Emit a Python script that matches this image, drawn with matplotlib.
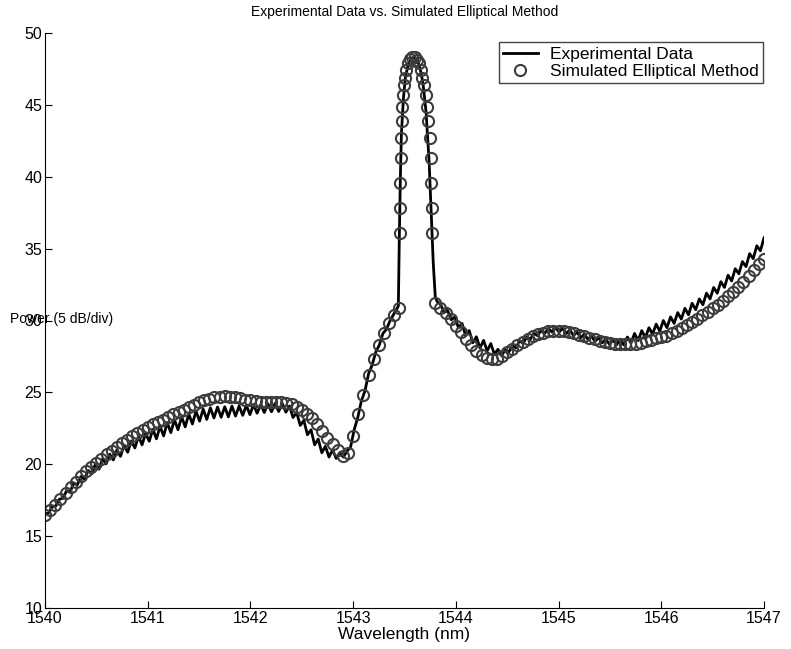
import numpy as np
import matplotlib
matplotlib.use("Agg")
import matplotlib.pyplot as plt

plt.rcParams['font.family'] = ['Liberation Sans', 'DejaVu Sans']

# Experimental data (sampled every 0.035 nm, ripple visible)
exp_left_start = 1540.0
exp_left_pw = [
    16.55, 16.6, 17.05, 17.1, 17.57, 17.63, 18.15, 18.1, 18.68, 18.57,
    19.15, 18.95, 19.57, 19.33, 20.0, 19.65, 20.37, 20.03, 20.7, 20.3,
    21.0, 20.55, 21.32, 20.83, 21.62, 21.13, 21.95, 21.35, 22.15, 21.6,
    22.43, 21.77, 22.63, 21.97, 22.9, 22.2, 23.1, 22.4, 23.3, 22.6,
    23.5, 22.8, 23.7, 23.0, 23.83, 23.12, 23.93, 23.22, 23.98, 23.27,
    24.0, 23.3, 24.05, 23.35, 24.05, 23.4, 24.1, 23.45, 24.15, 23.55,
    24.15, 23.6, 24.2, 23.65, 24.23, 23.67, 24.23, 23.62, 24.05, 23.25,
    23.6, 22.7, 23.05, 22.05, 22.4, 21.35, 21.75, 20.8, 21.25, 20.5,
    21.0, 20.4, 20.8, 20.5, 20.9, 21.2, 22.4, 23.25, 24.4, 25.1,
    26.3, 26.9, 27.8, 28.3, 29.1, 29.4, 30.0,
]
exp_peak_wl = [1543.40, 1543.44, 1543.45, 1543.46, 1543.47, 1543.49, 1543.51, 1543.54, 1543.58,
               1543.62, 1543.65, 1543.68, 1543.71, 1543.74, 1543.76, 1543.78, 1543.80, 1543.82]
exp_peak_pw = [30.5, 31.0, 36.0, 40.0, 43.0, 45.5, 47.0, 47.9, 48.3,
               48.2, 47.6, 46.5, 44.5, 41.0, 37.5, 34.0, 31.6, 31.3]
exp_right_start = 1543.85
exp_right_pw = [
    31.15, 30.55, 30.7, 30.05, 30.25, 29.5, 29.8, 28.95, 29.3, 28.45,
    28.87, 28.08, 28.62, 27.88, 28.4, 27.65, 28.0, 27.55, 27.95, 27.8,
    28.25, 28.1, 28.6, 28.4, 28.85, 28.7, 29.1, 28.95, 29.3, 29.1,
    29.45, 29.2, 29.5, 29.2, 29.45, 29.1, 29.35, 28.95, 29.2, 28.8,
    29.05, 28.7, 28.9, 28.55, 28.8, 28.45, 28.7, 28.35, 28.65, 28.3,
    28.7, 28.3, 28.85, 28.43, 29.1, 28.6, 29.3, 28.8, 29.5, 29.05,
    29.75, 29.25, 30.0, 29.5, 30.25, 29.8, 30.55, 30.1, 30.85, 30.4,
    31.2, 30.75, 31.5, 31.1, 31.9, 31.5, 32.3, 31.9, 32.7, 32.3,
    33.15, 32.75, 33.6, 33.25, 34.1, 33.75, 34.65, 34.3, 35.2, 34.85,
    35.75,
]
exp_step = 0.035

# Simulated elliptical method (sampled every 0.05 nm, plus the peak)
sim_left_start = 1540.0
sim_left_pw = [
    16.5, 16.85, 17.2, 17.6, 18.0, 18.4, 18.8, 19.15, 19.5, 19.8,
    20.1, 20.4, 20.7, 20.95, 21.2, 21.45, 21.7, 21.95, 22.2, 22.4,
    22.6, 22.8, 22.95, 23.1, 23.3, 23.5, 23.65, 23.8, 24.0, 24.15,
    24.3, 24.45, 24.55, 24.65, 24.7, 24.72, 24.7, 24.65, 24.6, 24.5,
    24.45, 24.4, 24.35, 24.35, 24.35, 24.35, 24.3, 24.25, 24.2, 24.0,
    23.8, 23.5, 23.2, 22.8, 22.3, 21.8, 21.4, 21.0, 20.6, 20.8,
    22.0, 23.5, 24.8, 26.2, 27.3, 28.3, 29.1, 29.8, 30.4, 30.9,
]
sim_peak_wl = [1543.455, 1543.457, 1543.46, 1543.463, 1543.467, 1543.472, 1543.478, 1543.486,
               1543.495, 1543.505, 1543.515, 1543.53,
               1543.55, 1543.575, 1543.60, 1543.625,
               1543.645, 1543.66, 1543.675, 1543.69, 1543.705, 1543.72, 1543.733, 1543.745,
               1543.755, 1543.762, 1543.767, 1543.772]
sim_peak_pw = [36.1, 37.8, 39.6, 41.3, 42.7, 43.9, 44.85, 45.7, 46.4, 46.9, 47.4, 47.9,
               48.2, 48.3, 48.3, 48.15,
               47.9, 47.4, 46.9, 46.4, 45.7, 44.85, 43.9, 42.7, 41.3, 39.6, 37.8, 36.1]
sim_right_start = 1543.80
sim_right_pw = [
    31.2, 30.9, 30.5, 30.1, 29.6, 29.2, 28.7, 28.3, 27.9, 27.6,
    27.4, 27.3, 27.35, 27.55, 27.8, 28.05, 28.3, 28.5, 28.7, 28.9,
    29.05, 29.15, 29.25, 29.3, 29.3, 29.25, 29.2, 29.1, 29.0, 28.9,
    28.8, 28.7, 28.6, 28.5, 28.45, 28.4, 28.35, 28.35, 28.35, 28.4,
    28.45, 28.55, 28.65, 28.75, 28.85, 28.95, 29.1, 29.3, 29.5, 29.7,
    29.9, 30.1, 30.35, 30.6, 30.85, 31.1, 31.35, 31.7, 32.0, 32.35,
    32.7, 33.1, 33.5, 33.9, 34.3,
]
sim_step = 0.05

x_ticks = [1540, 1541, 1542, 1543, 1544, 1545, 1546, 1547]
y_ticks = [10, 15, 20, 25, 30, 35, 40, 45, 50]

# build series
exp_wl = np.concatenate([
    exp_left_start + exp_step * np.arange(len(exp_left_pw)),
    exp_peak_wl,
    exp_right_start + exp_step * np.arange(len(exp_right_pw)),
])
exp_pw = np.concatenate([exp_left_pw, exp_peak_pw, exp_right_pw])

sim_wl = np.concatenate([
    sim_left_start + sim_step * np.arange(len(sim_left_pw)),
    sim_peak_wl,
    sim_right_start + sim_step * np.arange(len(sim_right_pw)),
])
sim_pw = np.concatenate([sim_left_pw, sim_peak_pw, sim_right_pw])

# Plot
fig = plt.figure(figsize=(7.91, 6.49), dpi=100)
ax = fig.add_axes([45 / 791, 1 - 608 / 649, 719 / 791, 575 / 649])

ax.plot(exp_wl, exp_pw, color="black", linewidth=2.0, label="Experimental Data")
ax.plot(sim_wl, sim_pw, linestyle="none", marker="o", markersize=8,
        markerfacecolor="none", markeredgecolor="#3c3c3c", markeredgewidth=1.5,
        label="Simulated Elliptical Method")

ax.set_xlim(1540, 1547)
ax.set_ylim(10, 50)
ax.set_xticks(x_ticks)
ax.set_yticks(y_ticks)
ax.tick_params(direction="in", length=5, width=0.8, labelsize=11.5, pad=2)
ax.spines["top"].set_visible(False)
ax.spines["right"].set_visible(False)

ax.set_title("Experimental Data vs. Simulated Elliptical Method", fontsize=10, pad=12)
ax.set_xlabel("Wavelength (nm)", fontsize=12.5, labelpad=1)
ax.text(-0.049, 0.503, "Power (5 dB/div)", transform=ax.transAxes,
        ha="left", va="center", fontsize=10)

leg = ax.legend(loc="upper right", bbox_to_anchor=(0.9986, 0.984), fontsize=12.5,
                fancybox=False, framealpha=1, edgecolor="#444444", borderaxespad=0,
                handlelength=2.0, handletextpad=0.7, borderpad=0.25, labelspacing=0.1)
leg.get_frame().set_linewidth(1.0)

plt.savefig("out.png", dpi=100)
plt.close()
